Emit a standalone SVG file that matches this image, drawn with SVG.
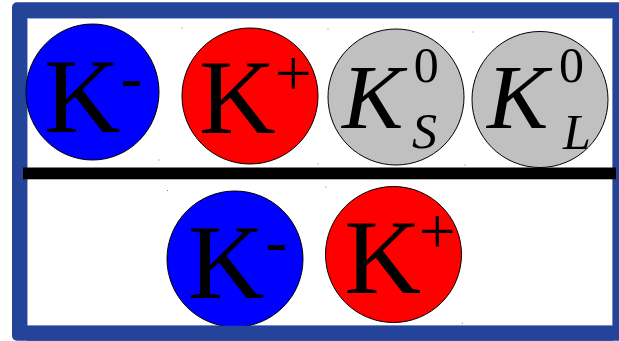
<svg xmlns="http://www.w3.org/2000/svg" width="619" height="341" viewBox="0 0 619 341">
  <style>
    .p { stroke: #000; stroke-width: 1; }
    .blue { fill: #0000ff; }
    .red { fill: #ff0000; }
    .gray { fill: #c0c0c0; }
    .t { font-family: "Liberation Serif", "Times New Roman", serif; fill: #000; }
    .it { font-style: italic; }
    .dot { fill: #777; }
  </style>
  <rect x="0" y="0" width="619" height="341" fill="#fff"/>
  <!-- frame -->
  <rect x="12" y="2.3" width="620" height="338.4" rx="5" fill="#234499"/>
  <rect x="27.3" y="18.3" width="585" height="307.4" fill="#fff" stroke="#8a9ccc" stroke-width="0.6"/>

  <g id="top-kminus">
    <ellipse class="p blue" cx="92.5" cy="92" rx="66.5" ry="68"/>
    <text class="t" x="44" y="132" font-size="106">K</text>
    <text class="t" x="120.5" y="98.5" font-size="65">-</text>
  </g>
  <g id="top-kplus">
    <circle class="p red" cx="250" cy="96" r="68"/>
    <text class="t" x="199" y="133" font-size="106">K</text>
    <text class="t" x="275" y="94.5" font-size="65">+</text>
  </g>
  <g id="k-short">
    <circle class="p gray" cx="396" cy="97" r="68"/>
    <text class="t it" x="342" y="128" font-size="92">K</text>
    <text class="t" x="413.8" y="81.5" font-size="50">0</text>
    <text class="t it" x="412" y="148" font-size="50">S</text>
  </g>
  <g id="k-long">
    <circle class="p gray" cx="540" cy="99.5" r="68"/>
    <text class="t it" x="487" y="128" font-size="92">K</text>
    <text class="t" x="559" y="81.5" font-size="50">0</text>
    <text class="t it" x="563" y="149" font-size="50">L</text>
  </g>

  <rect id="divider" x="23" y="167.5" width="593" height="11.8" fill="#000"/>

  <g id="bottom-kminus">
    <circle class="p blue" cx="235" cy="259" r="68"/>
    <text class="t" x="188" y="298" font-size="106">K</text>
    <text class="t" x="265.5" y="263" font-size="65">-</text>
  </g>
  <g id="bottom-kplus">
    <circle class="p red" cx="393.5" cy="254.5" r="68"/>
    <text class="t" x="344.5" y="292.5" font-size="106">K</text>
    <text class="t" x="419" y="252.5" font-size="65">+</text>
  </g>

  <!-- cover bottom border over circle -->
  <rect x="27" y="325.7" width="586" height="15" fill="#234499"/>

  <g id="marks">
    <rect class="dot" x="181.5" y="27.5" width="1" height="1"/>
    <rect class="dot" x="158.5" y="159.5" width="1" height="1"/>
    <rect class="dot" x="317.5" y="163.5" width="1" height="1"/>
    <rect class="dot" x="327.5" y="28.5" width="1" height="1"/>
    <rect class="dot" x="472.5" y="31.5" width="1" height="1"/>
    <rect class="dot" x="464.5" y="164.5" width="1" height="1"/>
    <rect class="dot" x="167" y="190" width="1" height="1"/>
    <rect class="dot" x="325.5" y="186.5" width="1" height="1"/>
    <rect class="dot" x="461.8" y="322.5" width="1" height="1"/>
  </g>
</svg>
